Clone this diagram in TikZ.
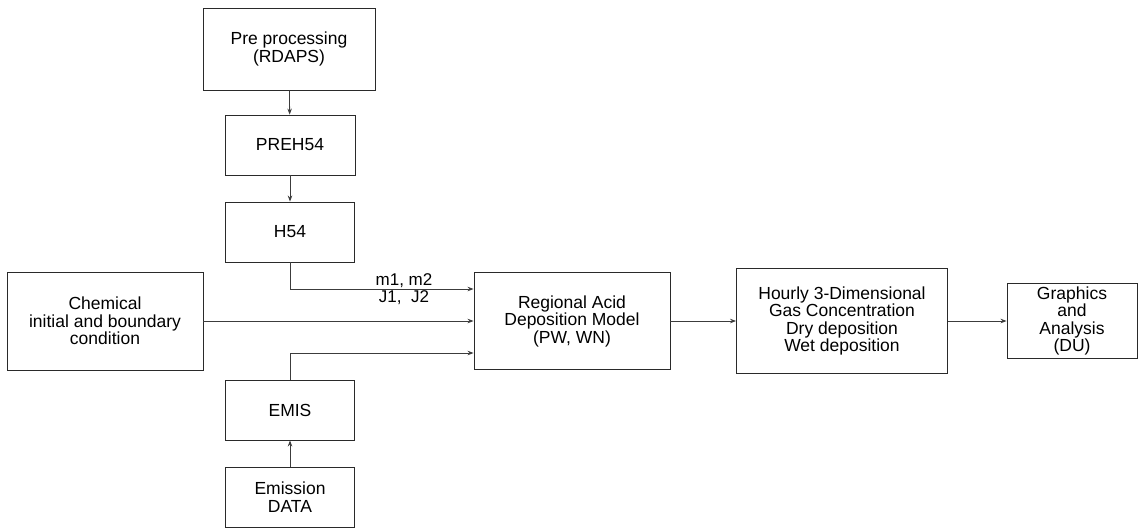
\documentclass[tikz,border=0pt]{standalone}
\usepackage{fontspec}
\setmainfont{Liberation Sans}
\usepackage{tikz}
\usetikzlibrary{arrows.meta, positioning, calc}
\definecolor{Box_Line}{HTML}{2A2A2A}
\definecolor{Flow_Line}{HTML}{3C3C3C}

\begin{document}
\begin{tikzpicture}[
    x=1pt, y=-1pt,
    box/.style={draw=Box_Line, line width=0.9pt, inner sep=0pt, align=center,
        font=\fontsize{17.5}{17.5}\selectfont, anchor=center},
    flow/.style={-{Stealth[length=6pt, width=4.5pt]}, line width=0.8pt, Flow_Line},
    lbl/.style={inner sep=0pt, align=center, font=\fontsize{17}{17}\selectfont}
]
\useasboundingbox (0,0) rectangle (1141,528);

\node[box, minimum width=172pt, minimum height=82pt] (pre) at (289, 49) {Pre processing\\(RDAPS)};
\node[box, minimum width=130pt, minimum height=60pt] (preh) at (290, 145) {PREH54};
\node[box, minimum width=129pt, minimum height=60pt] (h54) at (290, 232) {H54};
\node[box, minimum width=196pt, minimum height=98pt] (chem) at (105, 321) {Chemical\\initial and boundary\\condition};
\node[box, minimum width=129pt, minimum height=60pt] (emis) at (290, 410) {EMIS};
\node[box, minimum width=129pt, minimum height=60pt] (edata) at (290, 497) {Emission\\DATA};
\node[box, minimum width=196pt, minimum height=97pt] (radm) at (572, 321) {Regional Acid\\Deposition Model\\(PW, WN)};
\node[box, minimum width=211pt, minimum height=105pt] (hourly) at (842, 321) {Hourly 3-Dimensional\\Gas Concentration\\Dry deposition\\Wet deposition};
\node[box, minimum width=130pt, minimum height=75pt] (graph) at (1072, 321) {Graphics\\and\\Analysis\\(DU)};

\node[lbl] (mj) at (404, 289) {m1, m2\\J1,~~J2};

% Meteorology chain
\draw[flow] (pre) -- (preh);
\draw[flow] (preh) -- (h54);
\draw[flow] (h54.south) |- ([yshift=32pt]radm.west);

% Chemistry and emissions
\draw[flow] (chem.east) -- (radm.west);
\draw[flow] (edata) -- (emis);
\draw[flow] (emis.north) |- ([yshift=-32pt]radm.west);

% Model output
\draw[flow] (radm) -- (hourly);
\draw[flow] (hourly) -- (graph);
\end{tikzpicture}
\end{document}
